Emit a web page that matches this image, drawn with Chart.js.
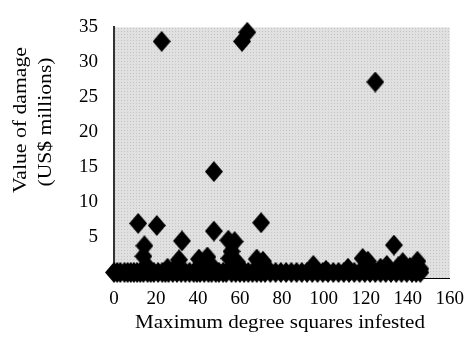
<!DOCTYPE html>
<html>
<head>
<meta charset="utf-8">
<title>Damage vs degree squares</title>
<script src="https://cdn.jsdelivr.net/npm/chart.js@4.4.1/dist/chart.umd.min.js"></script>
<style>
    html, body { margin: 0; padding: 0; background: #fff; }
    canvas { display: block; }
</style>
</head>
<body>
<canvas id="damageChart" width="474" height="338"></canvas>
<script>
// Outbreaks with recorded damage (x = max degree squares, y = US$ millions)
const outbreakSquares = [
    11.5, 20.4, 22.7, 14.5, 14.0, 15.5, 32.4, 31.0, 29.5, 25.5,
    47.6, 47.6, 40.5, 44.5, 42.0, 47.0, 54.5, 57.5, 56.0, 55.0,
    58.5, 60.0, 61.0, 63.5, 70.1, 68.0, 71.0, 73.0, 95.0, 101.0,
    111.5, 118.5, 121.0, 124.5, 127.0, 130.0, 133.4, 135.5, 137.6, 141.0,
    144.6, 146.0
];
const outbreakDamage = [
    7.0, 6.7, 33.0, 3.8, 2.3, 1.0, 4.5, 1.8, 0.8, 0.6,
    14.4, 5.9, 1.9, 2.2, 1.0, 0.8, 4.6, 4.4, 3.0, 2.0,
    1.5, 0.8, 33.0, 34.3, 7.1, 1.9, 1.6, 0.6, 1.0, 0.3,
    0.6, 2.0, 1.6, 27.2, 0.6, 1.0, 3.9, 0.8, 1.4, 0.7,
    1.6, 0.5
];

// Outbreaks with no reported damage
const zeroDamageSquares = [
    0, 1.5, 3, 5, 6.5, 8, 9.5, 11, 12.5, 14, 16, 17.5, 19, 21, 23, 24.5,
    26, 28, 30, 32, 34, 36, 38, 39.5, 41, 43, 45, 46.5, 48.5, 50, 52, 53.5,
    56, 58, 60, 62, 64, 66, 68, 70, 72, 74.5, 77, 79.5, 82, 84.5, 87, 89.5,
    92, 94.5, 97, 99.5, 102, 104.5, 107, 109.5, 112, 114.5, 117, 119.5, 122,
    124.5, 127, 129.5, 132, 134.5, 137, 139.5, 142, 144, 146
];

const yTickValues = [5, 10, 15, 20, 25, 30, 35];
const xTitle = 'Maximum degree squares infested';
const yTitleLines = ['Value of damage', '(US$ millions)'];

const FONT = '"Liberation Serif", "Times New Roman", serif';

const points = outbreakSquares.map((x, i) => ({ x: x, y: outbreakDamage[i] }))
    .concat(zeroDamageSquares.map(x => ({ x: x, y: 0 })));

// slightly tall black diamond used as the marker
function makeDiamond(w, h) {
    const c = document.createElement('canvas');
    c.width = w;
    c.height = h;
    const g = c.getContext('2d');
    g.fillStyle = '#000';
    g.beginPath();
    g.moveTo(w / 2, 0);
    g.lineTo(w, h / 2);
    g.lineTo(w / 2, h);
    g.lineTo(0, h / 2);
    g.closePath();
    g.fill();
    return c;
}

// dotted grey fill behind the plot
function makeDotPattern(ctx) {
    const tile = document.createElement('canvas');
    tile.width = 3;
    tile.height = 3;
    const t = tile.getContext('2d');
    t.fillStyle = '#e0e0e0';
    t.fillRect(0, 0, 3, 3);
    t.fillStyle = '#c4c4c4';
    t.fillRect(1, 1, 1, 1);
    return ctx.createPattern(tile, 'repeat');
}

const plotBackground = {
    id: 'plotBackground',
    beforeDraw(chart) {
        const { ctx, chartArea: a } = chart;
        ctx.save();
        ctx.fillStyle = makeDotPattern(ctx);
        ctx.fillRect(a.left, a.top, a.right - a.left, a.bottom - a.top);
        ctx.restore();
    }
};

// draws text stretched to a given width, centred on (cx, cy)
function fitText(ctx, text, cx, cy, width, size) {
    ctx.font = size + 'px ' + FONT;
    const w = ctx.measureText(text).width;
    ctx.save();
    ctx.translate(cx, cy);
    ctx.scale(width / w, 1);
    ctx.textAlign = 'center';
    ctx.textBaseline = 'middle';
    ctx.fillText(text, 0, 0);
    ctx.restore();
}

const axisTitles = {
    id: 'axisTitles',
    afterDraw(chart) {
        const ctx = chart.ctx;
        ctx.save();
        ctx.fillStyle = '#000';
        fitText(ctx, xTitle, 280, 323, 290, 19);
        ctx.save();
        ctx.translate(21, 120);
        ctx.rotate(-Math.PI / 2);
        fitText(ctx, yTitleLines[0], 0, 0, 146, 19);
        ctx.restore();
        ctx.save();
        ctx.translate(46, 122);
        ctx.rotate(-Math.PI / 2);
        fitText(ctx, yTitleLines[1], 0, 0, 129, 19);
        ctx.restore();
        ctx.restore();
    }
};

new Chart(document.getElementById('damageChart'), {
    type: 'scatter',
    data: {
        datasets: [{
            data: points,
            pointStyle: makeDiamond(18, 21),
            pointRadius: 9,
            pointHoverRadius: 9,
            backgroundColor: '#000',
            borderColor: '#000',
            clip: false
        }]
    },
    options: {
        responsive: false,
        animation: false,
        events: [],
        layout: { padding: { top: 19, right: 21, left: 0, bottom: 0 } },
        plugins: {
            legend: { display: false },
            tooltip: { enabled: false }
        },
        scales: {
            x: {
                type: 'linear',
                min: 0,
                max: 160,
                afterFit: scale => { scale.height = 60; },
                grid: { display: false, drawTicks: false },
                border: { display: true, color: '#000', width: 1 },
                ticks: {
                    stepSize: 20,
                    padding: 10,
                    maxRotation: 0,
                    color: '#000',
                    font: { family: FONT, size: 19 }
                }
            },
            y: {
                type: 'linear',
                min: -0.8,
                max: 35,
                afterFit: scale => { scale.width = 114; },
                afterBuildTicks: scale => {
                    scale.ticks = yTickValues.map(v => ({ value: v }));
                },
                grid: { display: false, drawTicks: false },
                border: { display: true, color: '#333', width: 2 },
                ticks: {
                    padding: 16,
                    color: '#000',
                    font: { family: FONT, size: 19 }
                }
            }
        }
    },
    plugins: [plotBackground, axisTitles]
});
</script>
</body>
</html>
